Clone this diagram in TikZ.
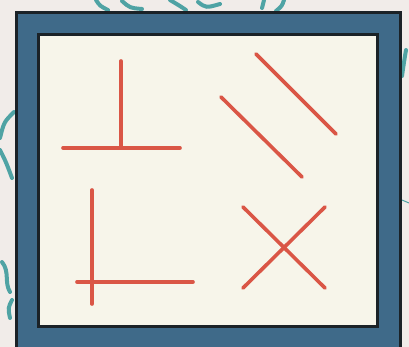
\documentclass[tikz,border=0pt]{standalone}
\usepackage{xcolor}
\usepackage{tikz}
\usetikzlibrary{calc}

\definecolor{wallbg}{HTML}{F1ECE9}
\definecolor{leafteal}{HTML}{4FA3A4}
\definecolor{frameblue}{HTML}{3F6A89}
\definecolor{framedark}{HTML}{1B2227}
\definecolor{boardcream}{HTML}{F7F5EA}
\definecolor{chalkred}{HTML}{DA5646}

\tikzset{
  leaf/.style={draw=leafteal, line width=4pt, line cap=round},
  seg/.style={draw=chalkred, line width=3.6pt, line cap=round}
}

\begin{document}
\begin{tikzpicture}[x=1pt, y=-1pt]
\useasboundingbox (0,0) rectangle (409,347);
\clip (0,0) rectangle (409,347);
\fill[wallbg] (0,0) rectangle (409,347);

% Leaves on the wall
\draw[leaf] (96,0) .. controls (100,6) .. (108,10);
\draw[leaf] (122,1) .. controls (130,8) .. (142,9);
\draw[leaf] (170,0) .. controls (180,6) .. (186,10);
\draw[leaf] (198,2) .. controls (206,8) .. (220,4);
\draw[leaf] (264,0) -- (262,8);
\draw[leaf] (284,0) .. controls (282,6) .. (276,11);
\draw[leaf] (14,112) .. controls (4,122) .. (0,138);
\draw[leaf] (0,150) .. controls (6,162) .. (12,178);
\draw[leaf] (2,262) .. controls (10,272) and (4,282) .. (10,292);
\draw[leaf] (12,300) .. controls (8,308) .. (10,318);
\draw[leaf] (406,50) .. controls (404,62) .. (402,76);
\draw[leafteal, line width=1pt] (402,200) -- (409,203);

% Frame
\filldraw[fill=frameblue, draw=framedark, line width=3pt] (16.5,12.5) rectangle (400.5,362);
\filldraw[fill=boardcream, draw=framedark, line width=3pt] (38.5,34.5) rectangle (377.5,326.5);

% Perpendicular
\coordinate (p1) at (121,61);
\coordinate (p2) at (121,148);
\coordinate (p3) at (63,148);
\coordinate (p4) at (180,148);
\draw[seg] (p1) -- (p2);
\draw[seg] (p3) -- (p4);

% Parallel
\coordinate (q1) at (256,54);
\coordinate (q2) at (336,134);
\coordinate (q3) at (221,97);
\coordinate (q4) at (302,177);
\draw[seg] (q1) -- (q2);
\draw[seg] (q3) -- (q4);

% Right angle, crossing
\coordinate (r1) at (92,190);
\coordinate (r2) at (92,304);
\coordinate (r3) at (77,282);
\coordinate (r4) at (193,282);
\draw[seg] (r1) -- (r2);
\draw[seg] (r3) -- (r4);

% Intersecting
\coordinate (s1) at (243,207);
\coordinate (s2) at (325,288);
\coordinate (s3) at (325,207);
\coordinate (s4) at (243,288);
\draw[seg] (s1) -- (s2);
\draw[seg] (s3) -- (s4);
\end{tikzpicture}
\end{document}
